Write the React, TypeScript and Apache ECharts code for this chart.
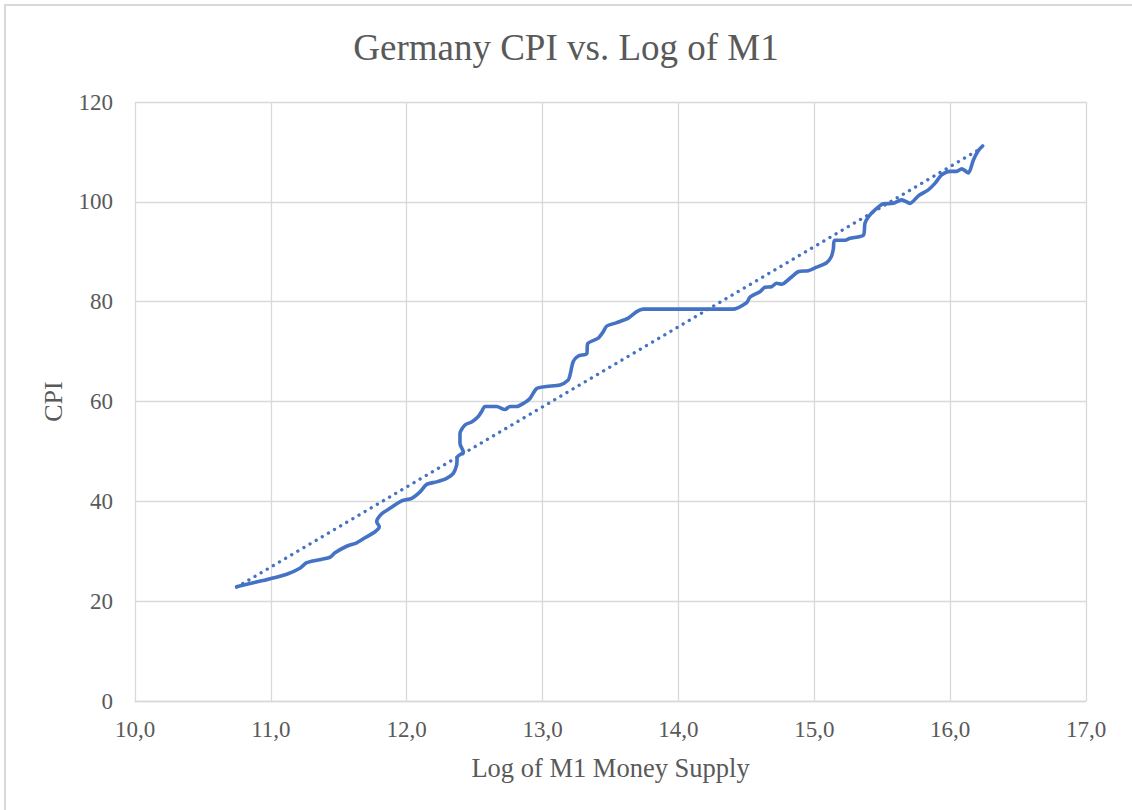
import React, { useEffect, useRef } from "react";
import * as echarts from "echarts";

const m1Log: number[] = [
  10.748, 10.871, 10.981, 11.117, 11.214, 11.264, 11.337, 11.435, 11.472, 11.558,
  11.632, 11.693, 11.767, 11.798, 11.779, 11.816, 11.877, 11.963, 12.037, 12.098,
  12.147, 12.221, 12.294, 12.343, 12.368, 12.373, 12.417, 12.392, 12.392, 12.429,
  12.478, 12.527, 12.552, 12.576, 12.662, 12.723, 12.76, 12.809, 12.87, 12.907,
  12.957, 13.03, 13.128, 13.189, 13.202, 13.226, 13.263, 13.325, 13.332, 13.41,
  13.447, 13.472, 13.546, 13.631, 13.693, 13.741, 14.399, 14.502, 14.527, 14.6,
  14.637, 14.686, 14.723, 14.76, 14.821, 14.882, 14.956, 15.017, 15.091, 15.125,
  15.14, 15.15, 15.226, 15.263, 15.361, 15.373, 15.398, 15.447, 15.508, 15.582,
  15.643, 15.705, 15.766, 15.839, 15.888, 15.938, 15.999, 16.048, 16.085, 16.134,
  16.171, 16.208, 16.239,
];

const cpi: number[] = [
  22.9, 23.7, 24.4, 25.4, 26.6, 27.7, 28.2, 28.8, 29.7, 31.0,
  31.7, 32.7, 33.9, 34.9, 35.9, 37.5, 38.6, 40.1, 40.6, 41.9,
  43.4, 43.9, 44.6, 45.6, 47.3, 48.9, 49.9, 51.6, 53.6, 55.3,
  55.9, 57.0, 58.0, 59.0, 59.0, 58.4, 59.0, 59.0, 59.8, 60.6,
  62.6, 63.0, 63.3, 64.3, 65.3, 68.0, 69.1, 69.6, 71.6, 72.7,
  74.0, 75.1, 75.8, 76.7, 78.0, 78.5, 78.5, 79.8, 80.9, 82.0,
  82.9, 83.0, 83.7, 83.5, 84.7, 86.0, 86.2, 86.9, 87.8, 89.0,
  90.5, 92.3, 92.3, 92.7, 93.3, 95.7, 97.0, 98.4, 99.6, 99.7,
  100.4, 99.7, 101.2, 102.4, 103.7, 105.4, 106.1, 106.1, 106.6, 105.8,
  108.4, 110.3, 111.2,
];

// Linear trendline endpoints
const trendX: number[] = [10.748, 16.239];
const trendY: number[] = [22.8, 110.9];

const xTicks = { min: 10, max: 17, interval: 1 };
const yTicks = { min: 0, max: 120, interval: 20 };

const TEXT = "#595959";
const GRID = "#d9d9d9";
const BLUE = "#4472C4";
const FONT = "'Liberation Serif', 'Times New Roman', serif";

export default function App() {
  const ref = useRef<HTMLDivElement>(null);

  useEffect(() => {
    if (!ref.current) return;
    const chart = echarts.init(ref.current, undefined, { renderer: "svg" });
    chart.setOption({
      animation: false,
      backgroundColor: "#ffffff",
      textStyle: { fontFamily: FONT },
      title: {
        text: "Germany CPI vs. Log of M1",
        left: "center",
        top: 24,
        textStyle: { fontFamily: FONT, fontSize: 37, fontWeight: "normal", color: TEXT },
      },
      graphic: [
        {
          type: "rect",
          shape: { x: 5, y: 5, width: 1300, height: 1000 },
          style: { fill: "none", stroke: GRID, lineWidth: 2 },
          silent: true,
        },
      ],
      grid: { left: 135, top: 102, width: 951, height: 599, containLabel: false },
      xAxis: {
        type: "value",
        min: xTicks.min,
        max: xTicks.max,
        interval: xTicks.interval,
        name: "Log of M1 Money Supply",
        nameLocation: "middle",
        nameGap: 53,
        nameTextStyle: { fontFamily: FONT, fontSize: 26.5, color: TEXT },
        axisLine: { show: true, lineStyle: { color: GRID, width: 1.3 } },
        axisTick: { show: false },
        axisLabel: {
          fontFamily: FONT,
          fontSize: 23,
          color: TEXT,
          margin: 17,
          formatter: (v: number) => v.toFixed(1).replace(".", ","),
        },
        splitLine: { show: true, lineStyle: { color: GRID, width: 1.3 } },
      },
      yAxis: {
        type: "value",
        min: yTicks.min,
        max: yTicks.max,
        interval: yTicks.interval,
        name: "CPI",
        nameLocation: "middle",
        nameGap: 69,
        nameRotate: 90,
        nameTextStyle: { fontFamily: FONT, fontSize: 26, color: TEXT },
        axisLine: { show: false },
        axisTick: { show: false },
        axisLabel: { fontFamily: FONT, fontSize: 23, color: TEXT, margin: 22 },
        splitLine: { show: true, lineStyle: { color: GRID, width: 1.3 } },
      },
      series: [
        {
          type: "line",
          name: "CPI",
          data: m1Log.map((x, i) => [x, cpi[i]]),
          showSymbol: false,
          smooth: 0.25,
          lineStyle: { color: BLUE, width: 3.6, cap: "round", join: "round" },
          z: 3,
        },
        {
          type: "line",
          name: "Linear (CPI)",
          data: trendX.map((x, i) => [x, trendY[i]]),
          showSymbol: false,
          lineStyle: { color: BLUE, width: 3.3, type: [0.1, 7], cap: "round" },
          z: 2,
        },
      ],
    });
    return () => chart.dispose();
  }, []);

  return (
    <div
      ref={ref}
      style={{ position: "absolute", left: 0, top: 0, width: 1132, height: 810 }}
    />
  );
}
